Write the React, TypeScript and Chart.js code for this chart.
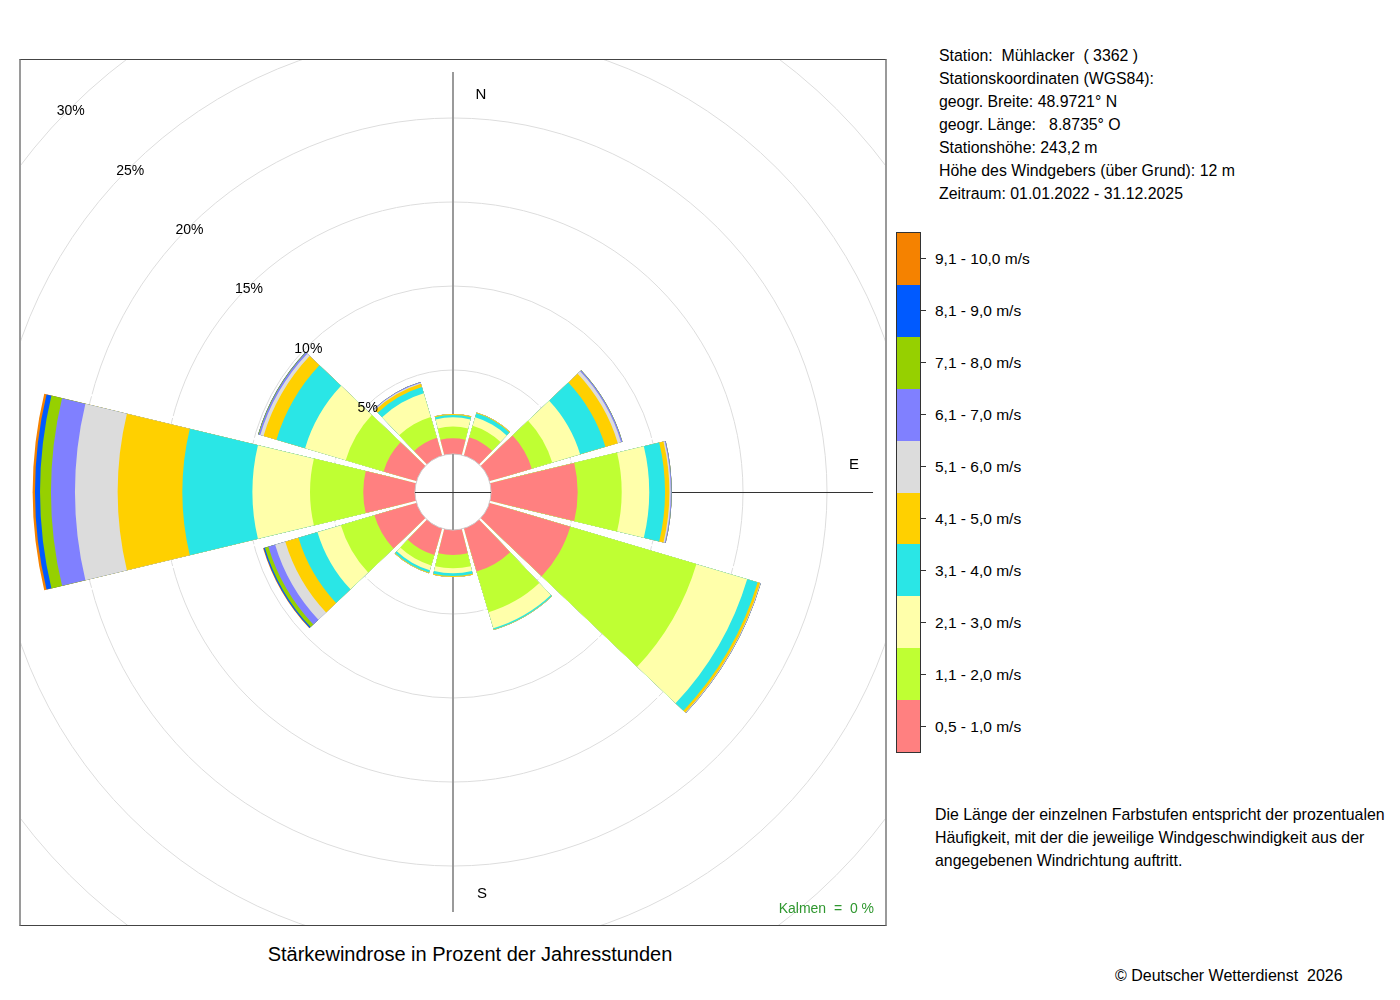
import React, { useEffect, useRef } from "react";
import { Chart, registerables } from "chart.js";

Chart.register(...registerables);

// ---------- data ----------
// direction sectors (bearing in degrees, clockwise from north)
const DIRECTION_DEGREES = [0, 30, 60, 90, 120, 150, 180, 210, 240, 270, 300, 330];
const DIRECTION_NAMES = ["N", "NNO", "ONO", "O", "OSO", "SSO", "S", "SSW", "WSW", "W", "WNW", "NNW"];

const SPEED_LABELS = [
  "0,5 - 1,0 m/s",
  "1,1 - 2,0 m/s",
  "2,1 - 3,0 m/s",
  "3,1 - 4,0 m/s",
  "4,1 - 5,0 m/s",
  "5,1 - 6,0 m/s",
  "6,1 - 7,0 m/s",
  "7,1 - 8,0 m/s",
  "8,1 - 9,0 m/s",
  "9,1 - 10,0 m/s",
];
const SPEED_COLORS = [
  "#ff8080",
  "#bfff33",
  "#ffffaa",
  "#2ae6e6",
  "#ffd000",
  "#dcdcdc",
  "#8080ff",
  "#96d000",
  "#005aff",
  "#f58200",
];

// frequency in % of annual hours, per speed class, for the 12 directions above
const SPEED_05_10 = [0.93, 1.13, 2.63, 5.16, 5.02, 2.68, 1.49, 1.65, 2.62, 3.08, 2.05, 1.1];
const SPEED_11_20 = [0.7, 0.72, 1.27, 2.62, 7.83, 2.52, 0.79, 0.65, 2.08, 3.17, 2.35, 1.3];
const SPEED_21_30 = [0.55, 0.53, 1.73, 1.64, 3.15, 1.0, 0.3, 0.3, 1.45, 3.43, 2.52, 1.47];
const SPEED_31_40 = [0.14, 0.24, 1.57, 0.94, 0.65, 0.08, 0.16, 0.14, 1.18, 4.17, 1.78, 0.38];
const SPEED_41_50 = [0.06, 0.05, 0.77, 0.26, 0.15, 0.02, 0.06, 0.04, 0.82, 3.85, 0.8, 0.21];
const SPEED_51_60 = [0, 0, 0.2, 0.08, 0.03, 0, 0, 0, 0.63, 2.54, 0.2, 0.06];
const SPEED_61_70 = [0, 0, 0.08, 0.05, 0.02, 0, 0, 0, 0.42, 1.43, 0.1, 0.04];
const SPEED_71_80 = [0, 0, 0.01, 0.01, 0, 0, 0, 0, 0.22, 0.65, 0.03, 0];
const SPEED_81_90 = [0, 0, 0, 0, 0, 0, 0, 0, 0.08, 0.3, 0.01, 0];
const SPEED_91_100 = [0, 0, 0, 0, 0, 0, 0, 0, 0.03, 0.14, 0, 0];

const SPEED_SERIES = [
  SPEED_05_10,
  SPEED_11_20,
  SPEED_21_30,
  SPEED_31_40,
  SPEED_41_50,
  SPEED_51_60,
  SPEED_61_70,
  SPEED_71_80,
  SPEED_81_90,
  SPEED_91_100,
];

const RING_TICKS = [5, 10, 15, 20, 25, 30, 35];
const RING_LABEL_TICKS = [5, 10, 15, 20, 25, 30];
const CARDINAL_TEXT = ["N", "E", "S", "W"];
const CARDINAL_DEG = [0, 90, 180, 270];
const KALMEN_PERCENT = 0;

const STATION_LINES = [
  "Station:  Mühlacker  ( 3362 )",
  "Stationskoordinaten (WGS84):",
  "geogr. Breite: 48.9721° N",
  "geogr. Länge:   8.8735° O",
  "Stationshöhe: 243,2 m",
  "Höhe des Windgebers (über Grund): 12 m",
  "Zeitraum: 01.01.2022 - 31.12.2025",
];
const NOTE_LINES = [
  "Die Länge der einzelnen Farbstufen entspricht der prozentualen",
  "Häufigkeit, mit der die jeweilige Windgeschwindigkeit aus der",
  "angegebenen Windrichtung auftritt.",
];
const TITLE = "Stärkewindrose in Prozent der Jahresstunden";
const COPYRIGHT = "© Deutscher Wetterdienst  2026";

// ---------- scale / style settings ----------
const SCALE_MIN = -2.262; // calm circle offset (value units)
const SCALE_MAX = 35;
const SECTOR_WIDTH = 27;
const GAP_WIDTH = 3;
const AXIS_EXTENT = 22.74;
const CARDINAL_RADIUS = 21.6;
// label offsets (px) beside the axis line: [dx, dy] for N, E, S, W
const CARDINAL_OFFSETS = [
  [28, 3],
  [0, -28],
  [29, 0],
  [0, -28],
];

const FONT = '"Liberation Sans", Arial, Helvetica, sans-serif';

const TOTALS = DIRECTION_DEGREES.map((_, i) =>
  SPEED_SERIES.reduce((s, arr) => s + arr[i], 0)
);

const roseDecor = {
  id: "roseDecor",
  beforeDatasetsDraw(chart: any) {
    const r = chart.scales.r;
    const ctx = chart.ctx;
    const cx = r.xCenter;
    const cy = r.yCenter;
    const L = r.getDistanceFromCenterForValue(AXIS_EXTENT);
    ctx.save();
    ctx.strokeStyle = "#9a9a9a";
    ctx.lineWidth = 2;
    ctx.beginPath();
    ctx.moveTo(cx, cy - L);
    ctx.lineTo(cx, cy + L);
    ctx.stroke();
    ctx.strokeStyle = "#333333";
    ctx.lineWidth = 1;
    ctx.beginPath();
    ctx.moveTo(cx - L, cy + 0.5);
    ctx.lineTo(cx + L, cy + 0.5);
    ctx.stroke();

    const rl = r.getDistanceFromCenterForValue(CARDINAL_RADIUS);
    ctx.fillStyle = "#000";
    ctx.font = `15px ${FONT}`;
    ctx.textAlign = "center";
    ctx.textBaseline = "middle";
    CARDINAL_TEXT.forEach((t, i) => {
      const a = (CARDINAL_DEG[i] * Math.PI) / 180;
      const px = cx + rl * Math.sin(a) + CARDINAL_OFFSETS[i][0];
      const py = cy - rl * Math.cos(a) + CARDINAL_OFFSETS[i][1] + 1;
      ctx.fillText(t, px, py);
    });
    ctx.restore();
  },
  afterDatasetsDraw(chart: any) {
    const r = chart.scales.r;
    const ctx = chart.ctx;
    const cx = r.xCenter;
    const cy = r.yCenter;
    ctx.save();
    // widen gaps between sectors near the centre
    ctx.strokeStyle = "#ffffff";
    ctx.lineWidth = 2;
    DIRECTION_DEGREES.forEach((deg, i) => {
      const next = (i + 1) % DIRECTION_DEGREES.length;
      const len = r.getDistanceFromCenterForValue(Math.max(TOTALS[i], TOTALS[next])) + 2;
      const a = ((deg + 15) * Math.PI) / 180;
      ctx.beginPath();
      ctx.moveTo(cx, cy);
      ctx.lineTo(cx + len * Math.sin(a), cy - len * Math.cos(a));
      ctx.stroke();
    });
    // calm circle
    const r0 = r.getDistanceFromCenterForValue(0);
    ctx.beginPath();
    ctx.arc(cx, cy, r0, 0, Math.PI * 2);
    ctx.fillStyle = "#ffffff";
    ctx.fill();
    ctx.strokeStyle = "#cccccc";
    ctx.lineWidth = 1;
    ctx.stroke();
    // axis lines through calm circle
    ctx.strokeStyle = "#9a9a9a";
    ctx.lineWidth = 2;
    ctx.beginPath();
    ctx.moveTo(cx, cy - r0);
    ctx.lineTo(cx, cy + r0);
    ctx.stroke();
    ctx.strokeStyle = "#333333";
    ctx.lineWidth = 1;
    ctx.beginPath();
    ctx.moveTo(cx - r0, cy + 0.5);
    ctx.lineTo(cx + r0, cy + 0.5);
    ctx.stroke();
    // ring labels along the NW diagonal
    ctx.fillStyle = "#000";
    ctx.font = `14px ${FONT}`;
    ctx.textAlign = "center";
    ctx.textBaseline = "middle";
    RING_LABEL_TICKS.forEach((v) => {
      const d = r.getDistanceFromCenterForValue(v);
      const k = Math.SQRT1_2;
      ctx.fillText(`${v}%`, cx - d * k + 1, cy - d * k + 2.5);
    });
    ctx.restore();
  },
};

function RoseChart() {
  const ref = useRef<HTMLCanvasElement | null>(null);
  useEffect(() => {
    if (!ref.current) return;
    const labels = DIRECTION_NAMES.flatMap((n) => [n, ""]);
    const datasets = SPEED_SERIES.map((_, k) => {
      const cumulative = DIRECTION_DEGREES.map((__, i) => {
        let s = 0;
        for (let j = 0; j <= k; j++) s += SPEED_SERIES[j][i];
        return s;
      });
      return {
        label: SPEED_LABELS[k],
        data: cumulative.flatMap((v) => [v, 0]),
        backgroundColor: (c: any) =>
          c.dataIndex % 2 === 0 ? SPEED_COLORS[k] : "rgba(0,0,0,0)",
        borderWidth: 0,
        angle: (c: any) => (c.dataIndex % 2 === 0 ? SECTOR_WIDTH : GAP_WIDTH),
      };
    });
    const chart = new Chart(ref.current, {
      type: "polarArea",
      data: { labels, datasets } as any,
      options: {
        responsive: false,
        animation: false,
        events: [],
        layout: { padding: 0 },
        plugins: {
          legend: { display: false },
          tooltip: { enabled: false },
          title: { display: false },
        },
        scales: {
          r: {
            min: SCALE_MIN,
            max: SCALE_MAX,
            bounds: "data",
            startAngle: -SECTOR_WIDTH / 2,
            ticks: { display: false },
            afterBuildTicks: (scale: any) => {
              scale.ticks = RING_TICKS.map((v) => ({ value: v }));
            },
            grid: { color: "#dddddd", lineWidth: 1, circular: true },
            angleLines: { display: false },
            pointLabels: { display: false },
          },
        },
      } as any,
      plugins: [roseDecor],
    });
    return () => chart.destroy();
  }, []);
  return (
    <canvas
      ref={ref}
      width={1252}
      height={1252}
      style={{ position: "absolute", left: -193, top: -193, width: 1252, height: 1252 }}
    />
  );
}

export default function App() {
  const legendColors = SPEED_COLORS.slice().reverse();
  const legendLabels = SPEED_LABELS.slice().reverse();
  return (
    <div
      style={{
        position: "absolute",
        left: 0,
        top: 0,
        width: 1400,
        height: 1000,
        background: "#fff",
        fontFamily: FONT,
        color: "#000",
        overflow: "hidden",
      }}
    >
      {/* plot box */}
      <div
        style={{
          position: "absolute",
          left: 20,
          top: 59,
          width: 866,
          height: 866,
          overflow: "hidden",
        }}
      >
        <RoseChart />
      </div>
      <div
        style={{
          position: "absolute",
          left: 19,
          top: 59,
          width: 868,
          height: 867,
          boxSizing: "border-box",
          borderTop: "1px solid #444",
          borderBottom: "1px solid #444",
          borderLeft: "2px solid #9a9a9a",
          borderRight: "2px solid #9a9a9a",
          pointerEvents: "none",
        }}
      />
      <div
        style={{
          position: "absolute",
          left: 690,
          top: 899,
          width: 184,
          lineHeight: "18px",
          fontSize: 14,
          textAlign: "right",
          whiteSpace: "pre",
          color: "#2f972f",
        }}
      >
        {`Kalmen  =  ${KALMEN_PERCENT} %`}
      </div>

      {/* title */}
      <div
        style={{
          position: "absolute",
          left: 0,
          top: 942,
          width: 940,
          textAlign: "center",
          fontSize: 20,
          lineHeight: "24px",
        }}
      >
        {TITLE}
      </div>

      {/* station info */}
      <div
        style={{
          position: "absolute",
          left: 939,
          top: 43.5,
          fontSize: 15.85,
          lineHeight: "23px",
          whiteSpace: "pre",
        }}
      >
        {STATION_LINES.map((l, i) => (
          <div key={i}>{l}</div>
        ))}
      </div>

      {/* colour legend */}
      <div
        style={{
          position: "absolute",
          left: 896,
          top: 232,
          width: 25,
          height: 521,
          boxSizing: "border-box",
          border: "1px solid #333",
          display: "flex",
          flexDirection: "column",
        }}
      >
        {legendColors.map((c, i) => (
          <div key={i} style={{ flex: 1, background: c }} />
        ))}
      </div>
      {legendLabels.map((l, i) => (
        <React.Fragment key={i}>
          <div
            style={{
              position: "absolute",
              left: 921,
              top: 258 + 52 * i,
              width: 5,
              height: 1,
              background: "#333",
            }}
          />
          <div
            style={{
              position: "absolute",
              left: 935,
              top: 232.5 + 52 * i,
              height: 52,
              lineHeight: "52px",
              fontSize: 15.5,
              whiteSpace: "pre",
            }}
          >
            {l}
          </div>
        </React.Fragment>
      ))}

      {/* note */}
      <div
        style={{
          position: "absolute",
          left: 935,
          top: 802.5,
          fontSize: 15.9,
          lineHeight: "23px",
          whiteSpace: "pre",
        }}
      >
        {NOTE_LINES.map((l, i) => (
          <div key={i}>{l}</div>
        ))}
      </div>

      {/* copyright */}
      <div
        style={{
          position: "absolute",
          left: 1115,
          top: 965,
          fontSize: 16,
          lineHeight: "22px",
          whiteSpace: "pre",
        }}
      >
        {COPYRIGHT}
      </div>
    </div>
  );
}
